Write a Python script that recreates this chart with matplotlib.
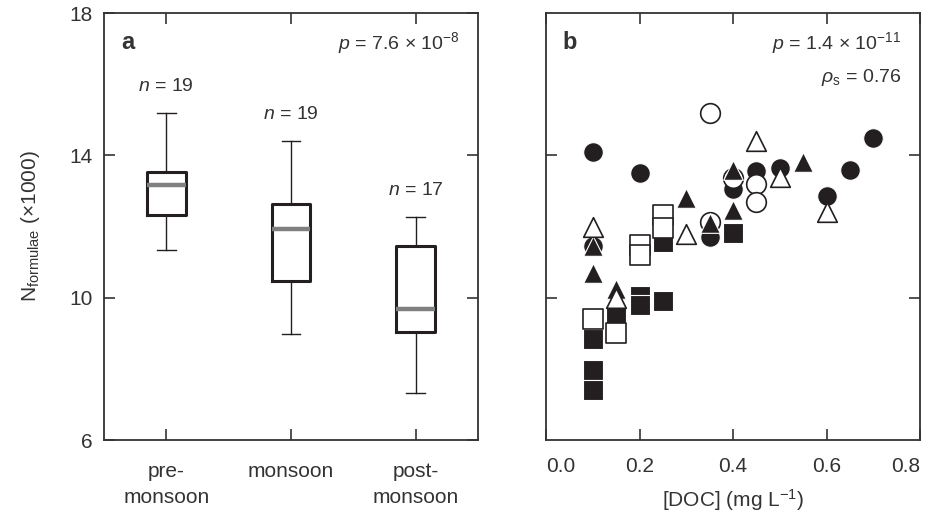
import matplotlib
matplotlib.use("Agg")
import matplotlib.pyplot as plt

plt.rcParams['font.family'] = ['Liberation Sans', 'DejaVu Sans']
plt.rcParams['mathtext.fontset'] = 'custom'
plt.rcParams['mathtext.rm'] = 'Liberation Sans'
plt.rcParams['mathtext.it'] = 'Liberation Sans:italic'
plt.rcParams['mathtext.bf'] = 'Liberation Sans:bold'

# panel a: box statistics (x1000 formulae)
seasons = ['pre-\nmonsoon', 'monsoon', 'post-\nmonsoon']
n_samples = [19, 19, 17]
whis_lo = [11.34, 8.98, 7.31]
q1 = [12.33, 10.47, 9.03]
med = [13.18, 11.93, 9.69]
q3 = [13.53, 12.64, 11.44]
whis_hi = [15.2, 14.41, 12.28]

# panel b: DOC vs N formulae
fc_x = [0.1, 0.2, 0.1, 0.35, 0.4, 0.45, 0.5, 0.6, 0.65, 0.7]
fc_y = [14.1, 13.5, 11.45, 11.7, 13.05, 13.55, 13.65, 12.85, 13.6, 14.5]
oc_x = [0.35, 0.35, 0.4, 0.45, 0.45]
oc_y = [15.2, 12.12, 13.35, 13.2, 12.7]
fs_x = [0.1, 0.1, 0.1, 0.15, 0.2, 0.2, 0.25, 0.25, 0.4]
fs_y = [8.85, 7.97, 7.4, 9.45, 10.05, 9.8, 11.57, 9.9, 11.82]
os_x = [0.1, 0.15, 0.2, 0.2, 0.25, 0.25]
os_y = [9.4, 9.0, 11.48, 11.2, 12.32, 11.95]
ft_x = [0.1, 0.1, 0.15, 0.3, 0.35, 0.4, 0.4, 0.55]
ft_y = [11.45, 10.7, 10.25, 12.8, 12.1, 13.6, 12.45, 13.8]
ot_x = [0.1, 0.15, 0.3, 0.45, 0.5, 0.6]
ot_y = [12.0, 10.0, 11.8, 14.4, 13.4, 12.4]

ink = '#231f20'
axc = '#333333'

fig = plt.figure(figsize=(9.25, 5.15), dpi=100)
axa = fig.add_axes([104/925, 75/515, 374/925, 427/515])
axb = fig.add_axes([546/925, 75/515, 374/925, 427/515])

def style_axes(ax):
    for sp in ax.spines.values():
        sp.set_color(axc)
        sp.set_linewidth(1.3)
    ax.tick_params(direction='in', length=8, width=1.2, color=axc,
                   top=True, right=True, labelsize=15, labelcolor=axc, pad=8)
    ax.set_ylim(6, 18)

# ---- panel a
stats = []
for i in range(len(seasons)):
    stats.append(dict(med=med[i], q1=q1[i], q3=q3[i], whislo=whis_lo[i],
                      whishi=whis_hi[i], fliers=[]))
pos = [1, 2, 3]
axa.bxp(stats, positions=pos, widths=0.31, showfliers=False,
        boxprops=dict(color=ink, linewidth=2.2),
        whiskerprops=dict(color=ink, linewidth=1.0),
        capprops=dict(color=ink, linewidth=1.0),
        medianprops=dict(color='#808080', linewidth=3.2),
        capwidths=0.15)
style_axes(axa)
axa.set_xlim(0.5, 3.5)
axa.set_xticks(pos)
axa.set_xticklabels(seasons, linespacing=1.45, va='top')
axa.set_yticks([6, 10, 14, 18])
axa.tick_params(axis='x', pad=16)
for i in range(len(seasons)):
    axa.text(pos[i], whis_hi[i] + 0.5, f'$n$ = {n_samples[i]}', ha='center',
             va='bottom', fontsize=14, color=axc)
axa.text(0.045, 0.93, 'a', transform=axa.transAxes, fontsize=17,
         fontweight='bold', color=axc, va='center')
axa.text(0.95, 0.93, r'$p$ = 7.6 × 10$^{-8}$', transform=axa.transAxes,
         fontsize=14, color=axc, ha='right', va='center')
axa.set_ylabel(r'N$_{\mathrm{formulae}}$ (×1000)', fontsize=15, color=axc,
               labelpad=20)

# ---- panel b
ms = 200
axb.scatter(fc_x, fc_y, s=ms, marker='o', facecolor=ink, edgecolor='white',
            linewidth=0.8, zorder=3)
axb.scatter(oc_x, oc_y, s=ms, marker='o', facecolor='white', edgecolor=ink,
            linewidth=1.2, zorder=3)
axb.scatter(fs_x, fs_y, s=ms, marker='s', facecolor=ink, edgecolor='white',
            linewidth=0.8, zorder=3)
axb.scatter(os_x, os_y, s=ms, marker='s', facecolor='white', edgecolor=ink,
            linewidth=1.2, zorder=3)
axb.scatter(ft_x, ft_y, s=ms, marker='^', facecolor=ink, edgecolor='white',
            linewidth=0.8, zorder=3)
axb.scatter(ot_x, ot_y, s=ms, marker='^', facecolor='white', edgecolor=ink,
            linewidth=1.2, zorder=3)
style_axes(axb)
axb.set_xlim(0, 0.8)
axb.set_xticks([0, 0.2, 0.4, 0.6, 0.8])
axb.set_xticklabels(['0.0', '0.2', '0.4', '0.6', '0.8'])
labs = axb.get_xticklabels()
labs[0].set_ha('left')
labs[-1].set_ha('right')
axb.set_yticks([10, 14])
axb.tick_params(axis='y', labelleft=False)
axb.tick_params(axis='x', pad=12)
axb.set_xlabel(r'[DOC] (mg L$^{-1}$)', fontsize=15, color=axc, labelpad=8)
axb.text(0.045, 0.93, 'b', transform=axb.transAxes, fontsize=17,
         fontweight='bold', color=axc, va='center')
axb.text(0.95, 0.93, r'$p$ = 1.4 × 10$^{-11}$', transform=axb.transAxes,
         fontsize=14, color=axc, ha='right', va='center')
axb.text(0.95, 0.85, r'$\rho_{\mathrm{s}}$ = 0.76', transform=axb.transAxes,
         fontsize=14, color=axc, ha='right', va='center')

fig.savefig('out.png', dpi=100)
